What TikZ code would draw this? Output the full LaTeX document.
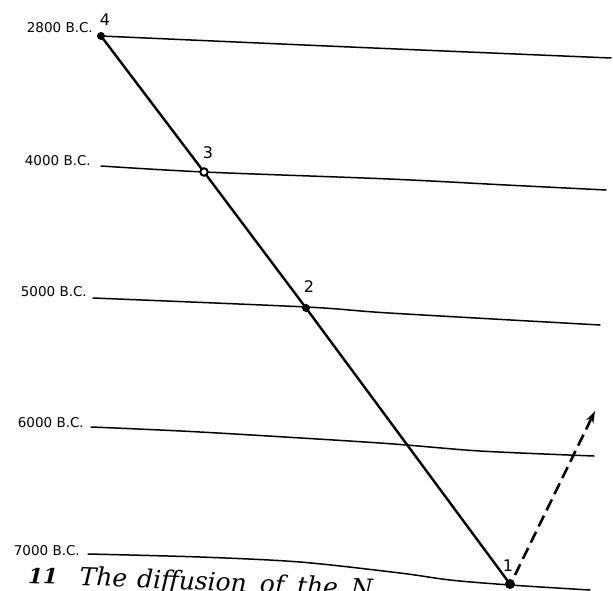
\documentclass[tikz,border=0pt]{standalone}
\usepackage{fontspec}
\newfontfamily\labfont{DejaVu Sans}
\newfontfamily\capfont{DejaVu Serif}
\usetikzlibrary{arrows.meta}
\begin{document}
\begin{tikzpicture}[x=1pt,y=-1pt,
  era/.style={line width=1.5pt, line cap=round},
  route/.style={line width=2.4pt},
  dashroute/.style={line width=2.6pt, dash pattern=on 12pt off 6pt, -{Stealth[length=12pt,width=8pt]}},
  dot/.style={circle,fill=black,inner sep=0pt,minimum size=8pt},
  ring/.style={circle,draw=black,line width=2pt,fill=white,inner sep=0pt,minimum size=7.5pt},
  datelbl/.style={font=\labfont\fontsize{13.5}{13.5}\selectfont, inner sep=0pt, anchor=east},
  numlbl/.style={font=\labfont\fontsize{16}{16}\selectfont, inner sep=0pt},
  caption/.style={font=\capfont\fontsize{25}{25}\selectfont\itshape, inner sep=0pt, anchor=base west, rotate=-2.4}
]
\useasboundingbox (0,0) rectangle (613,591);

% era lines
\draw[era] plot[smooth] coordinates {(101,36) (350,47) (611,58)};
\draw[era] plot[smooth] coordinates {(101,166) (204,172) (389,179) (506,185) (606,190)};
\draw[era] plot[smooth] coordinates {(93,298) (306,307) (389,313) (600,325)};
\draw[era] plot[smooth] coordinates {(91,427) (200,432) (380,443) (480,451) (594,456)};
\draw[era] plot[smooth] coordinates {(88,554) (200,557) (300,562) (400,573) (450,580) (510,585) (590,590)};

% date labels
\node[datelbl] (d2800) at (93,28) {2800 B.C.};
\node[datelbl] (d4000) at (91,161) {4000 B.C.};
\node[datelbl] (d5000) at (87,292) {5000 B.C.};
\node[datelbl] (d6000) at (84,423) {6000 B.C.};
\node[datelbl] (d7000) at (80,551) {7000 B.C.};

% site points
\coordinate (c4) at (101,36);
\coordinate (c3) at (204,172);
\coordinate (c2) at (306,308);
\coordinate (c1) at (510,584);
\coordinate (tip) at (595,411);

\draw[route] (c4) -- (c3) -- (c2) -- (c1);
\draw[dashroute] (515,575) -- (tip);

\node[dot] (p4) at (c4) {};
\node[ring] (p3) at (c3) {};
\node[dot] (p2) at (c2) {};
\node[dot, minimum size=10pt] (p1) at (c1) {};

\node[numlbl] (n4) at (105,20) {4};
\node[numlbl] (n3) at (208,153) {3};
\node[numlbl] (n2) at (309,287) {2};
\node[numlbl] (n1) at (508,566) {1};

% caption (cut off by the page edge, as in the scan)
\node[caption] (cap) at (28,583) {{\fontsize{21}{21}\selectfont\textbf{11}}\hspace{22pt}The\hspace{10pt}diffusion\hspace{13pt}of\hspace{13pt}the\hspace{13pt}N};
\end{tikzpicture}
\end{document}
